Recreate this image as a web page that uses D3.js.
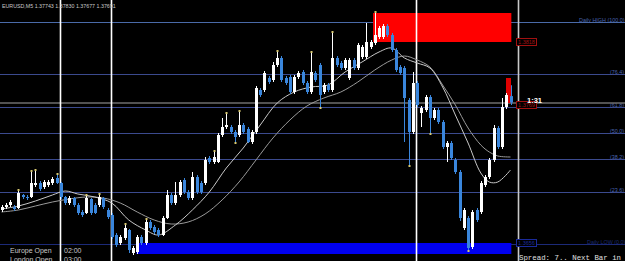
<!DOCTYPE html>
<html>
<head>
<meta charset="utf-8">
<script src="https://cdn.jsdelivr.net/npm/d3@7/dist/d3.min.js"></script>
<style>
  html, body { margin: 0; padding: 0; background: #000; }
  svg { display: block; }
  text { font-family: "Liberation Sans", Arial, sans-serif; }
</style>
</head>
<body>
<div id="chart"></div>
<script>
// EURUSD M5, prices in pips above the daily low
var dailyLow  = 1.36560;
var dailyHigh = 1.38336;
var header = "EURUSD,M5 1.37743 1.37830 1.37677 1.37691";

var opens  = [27.2,29.6,31.2,29.6,28.8,39.2,37.6,37.6,47.2,48.8,45.6,47.2,48.8,52.8,48.8,37.6,32.8,36.8,31.2,25.6,
  24.8,36.0,31.2,31.2,36.8,27.2,23.2,7.2,0.8,4.8,11.2,-7.2,-6.4,5.6,0.8,17.6,13.6,11.2,7.2,20.8,
  39.2,32.8,39.2,51.2,41.6,36.8,53.6,48.8,48.8,68.8,65.6,65.6,87.2,93.6,93.6,89.6,87.2,95.2,92.0,81.6,
  89.6,123.2,123.2,132.8,131.2,143.2,148.8,132.8,133.6,121.6,133.6,137.6,128.8,121.6,136.8,143.2,121.6,127.2,123.2,148.8,
  144.8,140.8,132.8,147.2,140.8,149.6,149.6,157.6,160.8,165.6,165.6,174.4,167.2,155.2,141.6,140.8,115.2,89.6,128.8,104.8,
  107.2,117.6,100.8,107.2,97.6,77.6,80.8,67.2,57.6,12.8,20.8,-2.4,27.2,25.6,47.2,53.6,67.2,92.8,77.6,109.6,118.3];
var highs  = [31.2,32.8,35.2,31.2,42.4,40.0,39.2,57.6,58.4,50.4,51.2,51.2,53.6,55.2,49.6,38.4,38.4,37.6,32.8,27.2,
  38.4,36.8,32.8,39.2,37.6,28.8,24.8,8.8,7.2,15.2,12.0,-1.6,7.2,7.2,19.2,19.2,15.2,12.8,22.4,43.2,
  40.8,49.6,51.2,52.8,43.2,57.6,55.2,50.4,69.6,70.4,73.6,88.8,100.8,104.0,95.2,91.2,105.6,96.8,93.6,91.2,
  126.4,124.8,138.4,134.4,145.6,153.6,150.4,134.4,135.2,135.2,138.4,139.2,130.4,152.8,138.4,144.8,128.8,128.8,168.8,150.4,
  146.4,148.8,148.8,148.8,160.8,159.2,176.8,163.2,184.8,174.4,176.0,176.0,168.8,156.8,143.2,142.4,116.8,137.6,130.4,110.4,
  119.2,119.2,108.8,108.8,99.2,82.4,82.4,68.8,59.2,28.8,22.4,27.2,28.8,50.4,55.2,68.8,95.2,94.4,116.8,120.8,127.0];
var lows   = [25.6,28.0,29.6,26.4,28.0,36.0,35.2,36.8,45.6,42.4,44.0,45.6,47.2,48.0,36.0,31.2,31.2,29.6,23.2,21.6,
  24.0,23.2,24.0,29.6,28.0,20.0,4.0,-2.4,-0.8,3.2,-7.2,-8.8,-8.0,-0.8,-0.8,11.2,8.0,5.6,6.4,20.0,
  31.2,31.2,37.6,40.0,35.2,35.2,40.0,40.0,47.2,64.0,64.0,64.8,85.6,92.0,88.0,81.6,85.6,88.0,80.8,80.0,
  88.0,117.6,121.6,128.0,129.6,141.6,129.6,127.2,120.0,120.0,132.0,127.2,120.0,120.0,129.6,109.6,120.0,121.6,121.6,141.6,
  139.2,139.2,131.2,139.2,139.2,148.0,148.0,156.0,159.2,164.0,164.0,165.6,153.6,137.6,135.2,81.6,63.2,88.0,109.6,93.6,
  105.6,88.8,99.2,96.0,76.0,65.6,67.2,56.0,18.4,11.2,-4.8,-4.0,17.6,24.0,45.6,52.0,65.6,76.0,76.0,108.0,111.2];
var closes = [29.6,31.2,33.6,28.0,40.8,37.6,36.8,48.8,48.8,44.0,49.6,49.6,52.0,48.8,37.6,32.8,36.8,31.2,24.8,23.2,
  36.8,24.8,24.8,37.6,29.6,21.6,5.6,-0.8,5.6,12.8,-4.8,-3.2,5.6,0.8,17.6,12.8,9.6,7.2,20.8,39.2,
  32.8,39.2,49.6,41.6,36.8,53.6,41.6,41.6,67.2,65.6,69.6,87.2,93.6,95.2,89.6,85.6,95.2,89.6,81.6,89.6,
  124.8,119.2,136.8,129.6,143.2,148.8,131.2,128.8,121.6,133.6,136.8,128.8,121.6,137.6,131.2,119.2,127.2,123.2,148.8,143.2,
  140.8,147.2,147.2,140.8,159.2,157.6,161.6,161.6,167.2,172.8,174.4,167.2,155.2,139.2,136.8,116.8,89.6,128.8,111.2,108.8,
  117.6,100.8,107.2,97.6,77.6,80.8,68.8,57.6,20.8,27.2,-3.2,25.6,19.2,48.8,53.6,67.2,92.8,77.6,109.6,119.2,113.1];

// fractal-style marks (candle indexes)
var highMarks = [4, 7, 8, 13, 20, 23, 29, 34, 50, 53, 56, 65, 73, 78, 88];
var lowMarks  = [55, 75, 96, 101, 110];

// moving averages: [candle index, pips]
var maFast = [[0,28],[4,30.4],[8,34.4],[12,39.2],[15,42.4],[18,40],[22,37.6],[26,32.8],[30,19.2],[34,11.2],
  [37,7.2],[41,15.2],[45,27.2],[49,41.6],[53,60.8],[57,76.8],[61,95.2],[65,112.8],[69,121.6],[73,125.6],
  [77,127.2],[81,137.6],[85,145.6],[89,153.6],[92,156.8],[95,148.8],[98,144.8],[101,140.8],[104,125.6],
  [107,103.2],[110,80.8],[113,56.8],[115,49.6],[117,49.6],[120,59.2]];
var maSlow = [[0,25.6],[4,27.2],[8,30.4],[12,33.6],[16,36],[20,37.6],[24,36.8],[28,32.8],[32,25.6],[36,19.2],
  [40,16],[44,17.6],[48,24],[52,35.2],[56,49.6],[60,67.2],[64,84.8],[68,99.2],[72,110.4],[76,116.8],
  [80,121.6],[84,129.6],[88,139.2],[92,147.2],[95,150.4],[98,147.2],[101,141.6],[104,127.2],[107,111.2],
  [110,92.8],[113,79.2],[115,73.6],[117,70.4],[120,69.6]];

var fibLevels = [0, 23.6, 38.2, 50, 61.8, 76.4, 100];
var sessionLines = [13.85, 25.85, 97.65, 121.8];
var supplyZone = {from: 87.6, to: 120.2, top: 184.8, bottom: 161.6, label: "1.3818"};
var demandZone = {from: 31.8, to: 120.2, top: 0.8, bottom: -8.0, label: "1.3656"};
var liveBar = [112.8, 132.8];
var sessions = [["Europe Open", "02:00"], ["London Open", "03:00"]];

var W = 625, H = 261;
var svg = d3.select('#chart').append('svg').attr('width', W).attr('height', H);
svg.append('rect').attr('width', W).attr('height', H).attr('fill', '#000');

var n = closes.length;
var x = d3.scaleLinear().domain([0, n - 1]).range([1.5, 510.5]);
var pip = function (p) { return dailyLow + p / 10000; };
var y = d3.scaleLinear().domain([dailyLow, dailyHigh]).range([244, 22]);
var yp = function (p) { return y(pip(p)); };

// fib levels
fibLevels.forEach(function (f) {
  var py = Math.round(y(dailyLow + (dailyHigh - dailyLow) * f / 100)) + 0.5;
  svg.append('line').attr('x1', 0).attr('x2', W).attr('y1', py).attr('y2', py)
    .attr('stroke', f === 100 ? '#4a6aa8' : (f === 0 ? '#1c2a78' : '#3b4a8e')).attr('stroke-width', 1);
  var lab = f === 100 ? 'Daily HIGH (100.0)' : f === 0 ? 'Daily LOW (0.0)' : '(' + f.toFixed(1) + ')';
  svg.append('text').attr('x', f === 100 ? 579 : f === 0 ? 587 : 610).attr('y', py - 1)
    .attr('font-size', 5.4).attr('fill', f === 0 ? '#1c2a70' : '#4a64b0').text(lab);
});

// zones
svg.append('rect')
  .attr('x', x(supplyZone.from)).attr('width', x(supplyZone.to) - x(supplyZone.from))
  .attr('y', yp(supplyZone.top)).attr('height', yp(supplyZone.bottom) - yp(supplyZone.top))
  .attr('fill', '#ff0000');
svg.append('rect')
  .attr('x', x(demandZone.from)).attr('width', x(demandZone.to) - x(demandZone.from))
  .attr('y', yp(demandZone.top)).attr('height', yp(demandZone.bottom) - yp(demandZone.top))
  .attr('fill', '#0000f0');

// current price line
var cy = Math.round(yp(closes[n - 1])) + 0.5;
svg.append('line').attr('x1', 0).attr('x2', W).attr('y1', cy - 0.5).attr('y2', cy - 0.5)
  .attr('stroke', '#6e6e6e').attr('stroke-width', 1.5);

// session lines
sessionLines.forEach(function (s, i) {
  var sx = Math.round(x(s)) + 0.5;
  svg.append('line').attr('x1', sx).attr('x2', sx).attr('y1', 0).attr('y2', H)
    .attr('stroke', i === 3 ? '#c8c8c8' : '#ffffff').attr('stroke-width', 1.6);
});

// moving averages
var maLine = d3.line()
  .x(function (d) { return x(d[0]); })
  .y(function (d) { return yp(d[1]); })
  .curve(d3.curveCatmullRom);
svg.append('path').attr('d', maLine(maSlow)).attr('fill', 'none')
  .attr('stroke', '#9a9a9a').attr('stroke-width', 1);
svg.append('path').attr('d', maLine(maFast)).attr('fill', 'none')
  .attr('stroke', '#c8c8c8').attr('stroke-width', 1);

// live bar
svg.append('rect').attr('x', x(n - 1) - 4.5).attr('width', 5)
  .attr('y', yp(liveBar[1])).attr('height', yp(liveBar[0]) - yp(liveBar[1]))
  .attr('fill', '#e00000');

// candles
var bull = '#ffffff', bear = '#3a86dc';
var g = svg.append('g');
d3.range(n).forEach(function (i) {
  var cx = Math.round(x(i));
  var up = closes[i] >= opens[i];
  var col = up ? bull : bear;
  g.append('line').attr('x1', cx + 0.5).attr('x2', cx + 0.5)
    .attr('y1', yp(highs[i])).attr('y2', yp(lows[i]))
    .attr('stroke', col).attr('stroke-width', 1);
  var t = yp(Math.max(opens[i], closes[i])), b = yp(Math.min(opens[i], closes[i]));
  g.append('rect').attr('x', cx - 1).attr('width', 3)
    .attr('y', t).attr('height', Math.max(1, b - t)).attr('fill', col);
});
highMarks.forEach(function (i) {
  g.append('rect').attr('x', Math.round(x(i)) - 0.5).attr('y', yp(highs[i]) - 2)
    .attr('width', 2).attr('height', 2).attr('fill', '#d8c870');
});
lowMarks.forEach(function (i) {
  g.append('rect').attr('x', Math.round(x(i)) - 0.5).attr('y', yp(lows[i]))
    .attr('width', 2).attr('height', 2).attr('fill', '#d8c870');
});

// price labels
function priceTag(p, txt, col, dy) {
  var ty = Math.round(yp(p)) + (dy || 0);
  svg.append('rect').attr('x', 516.5).attr('y', ty - 3.5).attr('width', 20).attr('height', 7)
    .attr('fill', '#000').attr('stroke', col).attr('stroke-width', 1);
  svg.append('text').attr('x', 526.5).attr('y', ty + 2).attr('text-anchor', 'middle')
    .attr('font-size', 5.5).attr('fill', col).text(txt);
}
priceTag(supplyZone.bottom, supplyZone.label, '#a01010');
priceTag(closes[n - 1], '1.3769', '#a01010', 2);
priceTag(demandZone.top, demandZone.label, '#1a2a9a');

svg.append('text').attr('x', 527).attr('y', cy - 0.5).attr('font-size', 7.5)
  .attr('font-weight', 'bold').attr('fill', '#fff').text('1:31');

// header
svg.append('text').attr('x', 2).attr('y', 8).attr('font-size', 5.3)
  .attr('fill', '#c8c8c8').text(header);

// session text
sessions.forEach(function (s, i) {
  svg.append('text').attr('x', 10).attr('y', 252.5 + i * 9.5).attr('font-size', 7)
    .attr('fill', '#c8c8c8').text(s[0]);
  svg.append('text').attr('x', 64).attr('y', 252.5 + i * 9.5).attr('font-size', 7)
    .attr('fill', '#c8c8c8').text(s[1]);
});

svg.append('text').attr('x', 519).attr('y', 260).attr('font-size', 7.4)
  .style('font-family', '"Liberation Mono", monospace').attr('fill', '#e0e0e0')
  .text('Spread: 7.. Next Bar in 0');
</script>
</body>
</html>
